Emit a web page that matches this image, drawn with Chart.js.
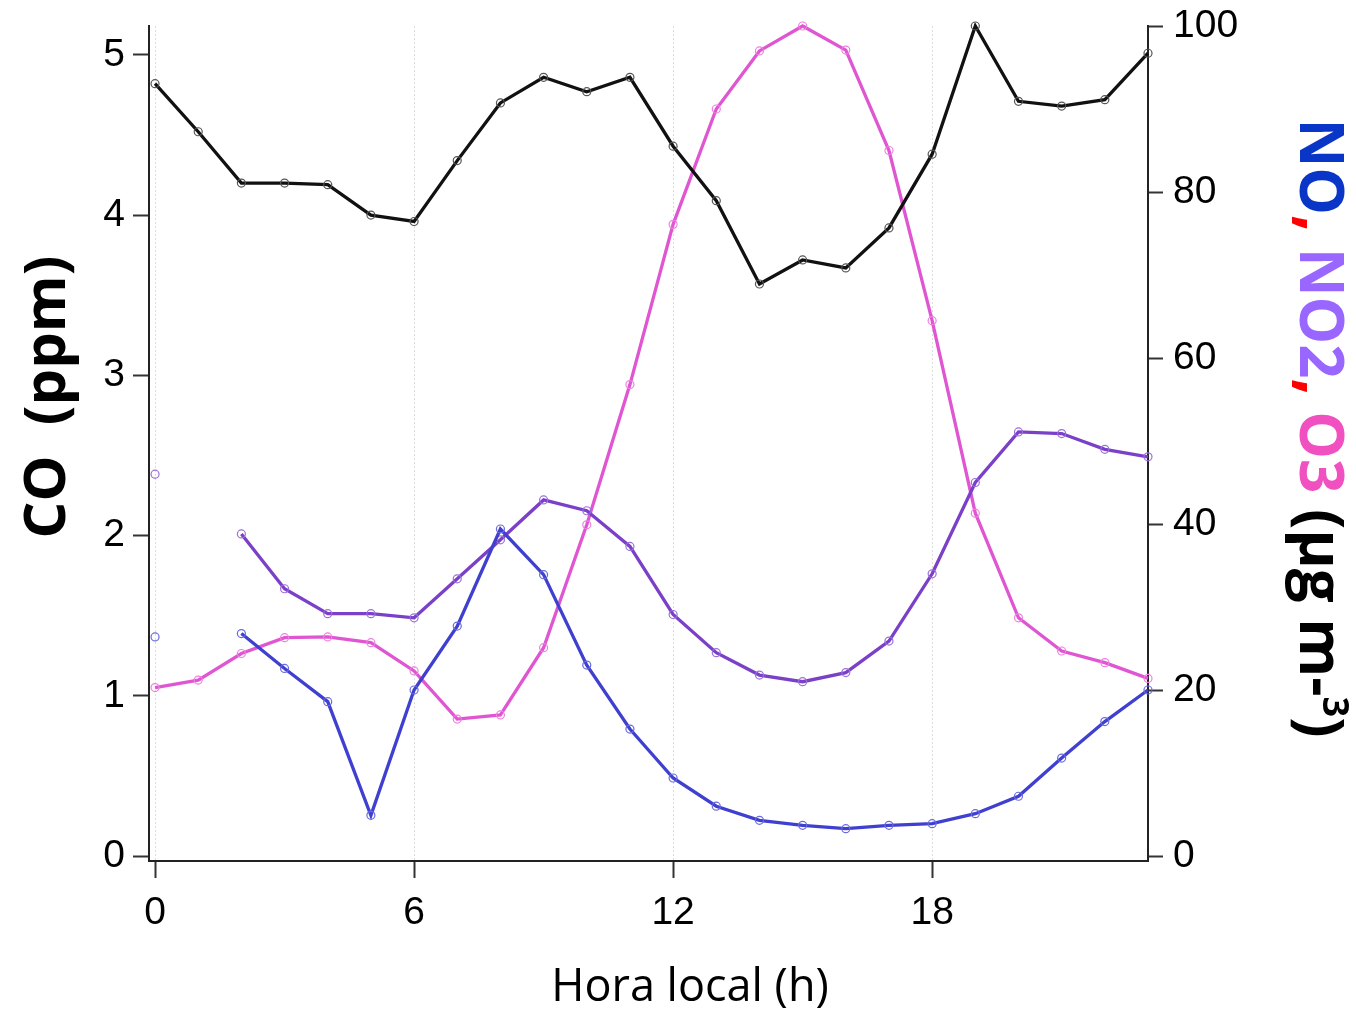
<!DOCTYPE html>
<html>
<head>
<meta charset="utf-8">
<script src="https://cdn.jsdelivr.net/npm/chart.js@4/dist/chart.umd.min.js"></script>
<style>
  html, body { margin: 0; padding: 0; background: #fff; }
  #wrap { width: 1356px; height: 1013px; position: relative; }
</style>
</head>
<body>
<div id="wrap"><canvas id="chart"></canvas></div>
<script>
// hours of the day
var hours = [0, 1, 2, 3, 4, 5, 6, 7, 8, 9, 10, 11, 12, 13, 14, 15, 16, 17, 18, 19, 20, 21, 22, 23];

// CO (ppm), left axis
var coValues = [4.82, 4.52, 4.20, 4.20, 4.19, 4.00, 3.96, 4.34, 4.70, 4.86, 4.77, 4.86,
                4.43, 4.09, 3.57, 3.72, 3.67, 3.92, 4.38, 5.18, 4.71, 4.68, 4.72, 5.01];

// NO, NO2, O3 (ug m-3), right axis
var noValues = [26.4, null, 26.8, 22.6, 18.6, 4.9, 20.0, 27.7, 39.4, 33.9, 23.0, 15.3,
                9.4, 6.0, 4.3, 3.7, 3.3, 3.7, 3.9, 5.1, 7.2, 11.8, 16.2, 20.0];
var no2Values = [46.0, null, 38.8, 32.2, 29.2, 29.2, 28.7, 33.4, 38.1, 42.9, 41.6, 37.3,
                 29.1, 24.5, 21.8, 21.0, 22.1, 25.9, 34.0, 45.0, 51.1, 50.9, 49.0, 48.1];
var o3Values = [20.3, 21.2, 24.4, 26.3, 26.4, 25.7, 22.3, 16.5, 17.0, 25.1, 39.9, 56.8,
                76.1, 90.0, 97.0, 100.0, 97.1, 85.0, 64.5, 41.3, 28.7, 24.7, 23.3, 21.4];

var xTicks = [0, 6, 12, 18];
var coTicks = [0, 1, 2, 3, 4, 5];
var ugTicks = [0, 20, 40, 60, 80, 100];

function toPoints(values) {
    return hours.map(function (h, i) {
        return { x: h, y: values[i] };
    });
}

function lineSet(label, values, color, pointColor, axis) {
    return {
        label: label,
        data: toPoints(values),
        yAxisID: axis,
        borderColor: color,
        borderWidth: 3.3,
        pointRadius: 4,
        pointBorderWidth: 1.2,
        pointBorderColor: pointColor,
        pointBackgroundColor: 'rgba(0,0,0,0)',
        spanGaps: false,
        tension: 0,
        clip: false
    };
}

var tickFont = { family: '"Liberation Sans", Arial, sans-serif', size: 39 };

var titlesPlugin = {
    id: 'titles',
    afterDraw: function (chart) {
        var ctx = chart.ctx;

        // left title
        ctx.save();
        ctx.fillStyle = '#000';
        ctx.font = 'bold 58px "Open Sans"';
        ctx.textAlign = 'center';
        ctx.textBaseline = 'middle';
        ctx.translate(48, 397);
        ctx.rotate(-Math.PI / 2);
        ctx.fillText('CO  (ppm)', 0, 0);
        ctx.restore();

        // bottom title
        ctx.save();
        ctx.fillStyle = '#000';
        ctx.font = '45px "Open Sans"';
        ctx.textAlign = 'center';
        ctx.textBaseline = 'middle';
        ctx.fillText('Hora local (h)', 690, 988);
        ctx.restore();

        // right title, several colours
        var size = 60;
        var parts = [
            { t: 'NO', c: '#0a36c8' },
            { t: ',', c: '#ff0000' },
            { t: ' NO2', c: '#9966ff' },
            { t: ',', c: '#ff0000' },
            { t: ' O3', c: '#f050c0' },
            { t: ' (\u00b5g m-', c: '#000000' },
            { t: '3', c: '#000000', sup: true },
            { t: ')', c: '#000000' }
        ];
        ctx.save();
        ctx.textAlign = 'left';
        ctx.textBaseline = 'alphabetic';
        var total = 0;
        parts.forEach(function (p) {
            ctx.font = 'bold ' + (p.sup ? Math.round(size * 0.6) : size) + 'px "Open Sans"';
            p.w = ctx.measureText(p.t).width;
            total += p.w;
        });
        ctx.translate(1322, 428);
        ctx.rotate(Math.PI / 2);
        var x = -total / 2;
        var base = size * 0.36;
        parts.forEach(function (p) {
            ctx.font = 'bold ' + (p.sup ? Math.round(size * 0.6) : size) + 'px "Open Sans"';
            ctx.fillStyle = p.c;
            ctx.fillText(p.t, x, p.sup ? base - size * 0.38 : base);
            x += p.w;
        });
        ctx.restore();
    }
};

new Chart(document.getElementById('chart'), {
    type: 'line',
    data: {
        datasets: [
            lineSet('CO', coValues, '#111111', '#555555', 'yCO'),
            lineSet('NO', noValues, '#4040d0', '#6a6ae0', 'yUG'),
            lineSet('NO2', no2Values, '#7b40c8', '#9a70dc', 'yUG'),
            lineSet('O3', o3Values, '#e055d2', '#ee80e2', 'yUG')
        ]
    },
    options: {
        responsive: true,
        maintainAspectRatio: false,
        animation: false,
        layout: { padding: { top: 26, left: 0, right: 0, bottom: 0 } },
        plugins: {
            legend: { display: false },
            tooltip: { enabled: false }
        },
        scales: {
            x: {
                type: 'linear',
                min: -0.14,
                max: 23,
                afterBuildTicks: function (scale) {
                    scale.ticks = xTicks.map(function (v) { return { value: v }; });
                },
                afterFit: function (scale) { scale.height = 152; },
                grid: {
                    color: '#dcdcdc',
                    lineWidth: 1,
                    tickLength: 17,
                    tickColor: '#333',
                    tickWidth: 2
                },
                border: { color: '#222', width: 2, dash: [2, 2] },
                ticks: { color: '#000', font: tickFont, padding: 12, maxRotation: 0 }
            },
            yCO: {
                type: 'linear',
                position: 'left',
                min: -0.031,
                max: 5.18,
                afterBuildTicks: function (scale) {
                    scale.ticks = coTicks.map(function (v) { return { value: v }; });
                },
                afterFit: function (scale) {
                    scale.width = 149;
                    scale.paddingTop = 0;
                    scale.paddingBottom = 0;
                },
                grid: {
                    drawOnChartArea: false,
                    tickLength: 16,
                    tickColor: '#333',
                    tickWidth: 2
                },
                border: { color: '#222', width: 2 },
                ticks: { color: '#000', font: tickFont, padding: 8 }
            },
            yUG: {
                type: 'linear',
                position: 'right',
                min: -0.6,
                max: 100,
                afterBuildTicks: function (scale) {
                    scale.ticks = ugTicks.map(function (v) { return { value: v }; });
                },
                afterFit: function (scale) {
                    scale.width = 208;
                    scale.paddingTop = 0;
                    scale.paddingBottom = 0;
                },
                grid: {
                    drawOnChartArea: false,
                    tickLength: 15,
                    tickColor: '#333',
                    tickWidth: 2
                },
                border: { color: '#222', width: 2 },
                ticks: { color: '#000', font: tickFont, padding: 10 }
            }
        }
    },
    plugins: [titlesPlugin]
});
</script>
</body>
</html>
